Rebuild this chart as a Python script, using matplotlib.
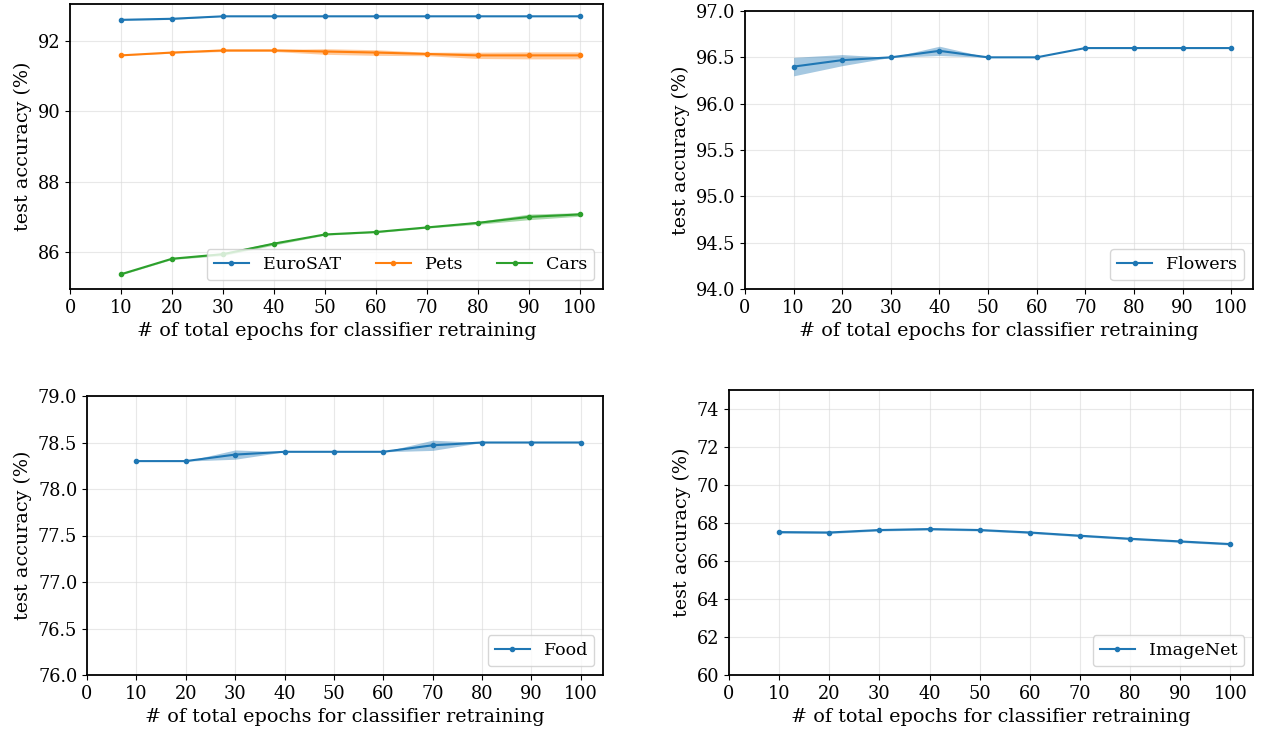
import numpy as np
import matplotlib
matplotlib.use("Agg")
import matplotlib.pyplot as plt

plt.rcParams['font.family'] = 'serif'
plt.rcParams['font.serif'] = ['DejaVu Serif']
plt.rcParams['font.size'] = 12.5

epochs = [10, 20, 30, 40, 50, 60, 70, 80, 90, 100]

eurosat = [92.60, 92.63, 92.70, 92.70, 92.70, 92.70, 92.70, 92.70, 92.70, 92.70]
eurosat_std = [0.01, 0.02, 0.0, 0.0, 0.0, 0.0, 0.0, 0.0, 0.0, 0.0]
pets = [91.59, 91.67, 91.73, 91.73, 91.70, 91.67, 91.63, 91.59, 91.59, 91.59]
pets_std = [0.0, 0.02, 0.03, 0.03, 0.08, 0.08, 0.05, 0.09, 0.1, 0.1]
cars = [85.37, 85.81, 85.94, 86.24, 86.50, 86.57, 86.70, 86.83, 87.00, 87.07]
cars_std = [0.02, 0.02, 0.04, 0.04, 0.02, 0.02, 0.02, 0.04, 0.08, 0.05]

flowers = [96.40, 96.47, 96.50, 96.57, 96.50, 96.50, 96.60, 96.60, 96.60, 96.60]
flowers_std = [0.10, 0.06, 0.0, 0.05, 0.0, 0.0, 0.0, 0.0, 0.0, 0.0]

food = [78.30, 78.30, 78.37, 78.40, 78.40, 78.40, 78.47, 78.50, 78.50, 78.50]
food_std = [0.0, 0.0, 0.05, 0.0, 0.0, 0.0, 0.055, 0.0, 0.0, 0.0]

imagenet = [67.52, 67.50, 67.63, 67.68, 67.63, 67.50, 67.33, 67.17, 67.03, 66.89]
imagenet_std = [0.05, 0.05, 0.05, 0.05, 0.05, 0.05, 0.05, 0.05, 0.05, 0.05]

xticks = [0, 10, 20, 30, 40, 50, 60, 70, 80, 90, 100]
xlabel = "# of total epochs for classifier retraining"
ylabel = "test accuracy (%)"

W, H = 1263, 732
fig = plt.figure(figsize=(W / 100, H / 100), dpi=100)


def axes_px(x0, x1, y0, y1):
    return fig.add_axes([x0 / W, 1 - y1 / H, (x1 - x0) / W, (y1 - y0) / H])


def series(ax, y, s, label, color):
    y = np.array(y)
    s = np.array(s)
    ax.fill_between(epochs, y - s, y + s, color=color, alpha=0.4, linewidth=0)
    ax.plot(epochs, y, marker='o', markersize=3, linewidth=1.5, color=color, label=label)


def style(ax):
    ax.grid(True, color='#d9d9d9', alpha=0.6, linewidth=0.8)
    ax.set_axisbelow(True)
    ax.set_xticks(xticks)
    ax.set_xlim(0, 104.5)
    ax.set_xlabel(xlabel, fontsize=13.8)
    ax.set_ylabel(ylabel, fontsize=13.8)
    ax.tick_params(labelsize=12.8)
    for sp in ax.spines.values():
        sp.set_linewidth(1.3)


ax1 = axes_px(70, 603, 4, 289)
series(ax1, eurosat, eurosat_std, 'EuroSAT', '#1f77b4')
series(ax1, pets, pets_std, 'Pets', '#ff7f0e')
series(ax1, cars, cars_std, 'Cars', '#2ca02c')
style(ax1)
ax1.set_ylim(84.95, 93.05)
ax1.set_yticks([86, 88, 90, 92])
ax1.legend(loc='lower right', ncol=3, fontsize=12.6)

ax2 = axes_px(745, 1253, 11, 289)
series(ax2, flowers, flowers_std, 'Flowers', '#1f77b4')
style(ax2)
ax2.set_ylim(94.0, 97.0)
ax2.set_yticks(np.arange(94.0, 97.01, 0.5))
ax2.yaxis.set_major_formatter(matplotlib.ticker.FormatStrFormatter('%.1f'))
ax2.legend(loc='lower right', fontsize=12.6)

ax3 = axes_px(87, 603, 396, 675)
series(ax3, food, food_std, 'Food', '#1f77b4')
style(ax3)
ax3.set_ylim(76.0, 79.0)
ax3.set_yticks(np.arange(76.0, 79.01, 0.5))
ax3.yaxis.set_major_formatter(matplotlib.ticker.FormatStrFormatter('%.1f'))
ax3.legend(loc='lower right', fontsize=12.6)

ax4 = axes_px(729, 1253, 390, 675)
series(ax4, imagenet, imagenet_std, 'ImageNet', '#1f77b4')
style(ax4)
ax4.set_ylim(60, 75)
ax4.set_yticks(np.arange(60, 75, 2))
ax4.legend(loc='lower right', fontsize=12.6)

fig.savefig('out.png', dpi=100)
